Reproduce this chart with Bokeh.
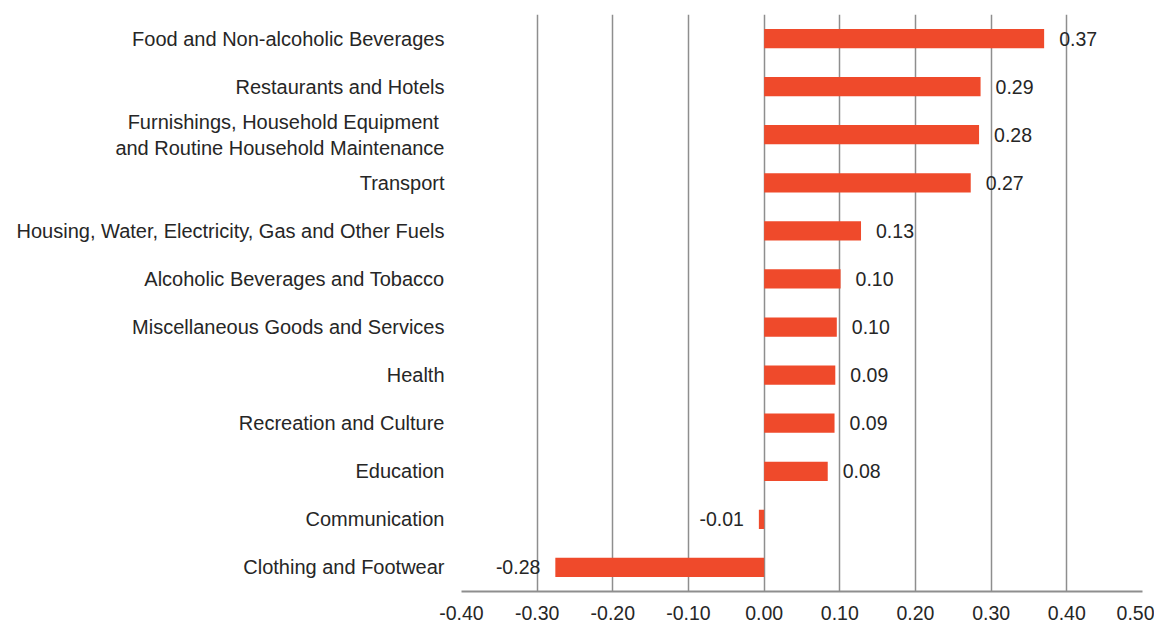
from bokeh.plotting import figure
from bokeh.models import ColumnDataSource, FixedTicker, NumeralTickFormatter, FactorRange, Range1d
from bokeh.embed import file_html
from bokeh.resources import INLINE
from bokeh.core.properties import value

categories = [
    "Food and Non-alcoholic Beverages",
    "Restaurants and Hotels",
    "Furnishings, Household Equipment \nand Routine Household Maintenance",
    "Transport",
    "Housing, Water, Electricity, Gas and Other Fuels",
    "Alcoholic Beverages and Tobacco",
    "Miscellaneous Goods and Services",
    "Health",
    "Recreation and Culture",
    "Education",
    "Communication",
    "Clothing and Footwear",
]
values = [0.370, 0.286, 0.284, 0.273, 0.128, 0.101, 0.096, 0.094, 0.093, 0.084, -0.007, -0.276]
x_ticks = [-0.4, -0.3, -0.2, -0.1, 0.0, 0.1, 0.2, 0.3, 0.4, 0.5]

FONT = "Liberation Sans"
TEXT = "#262626"
BAR = "#EF4A2B"
GRID = "#8E8E8E"

labels = [f"{v:.2f}" for v in values]
pos = [v >= 0 for v in values]
src_pos = ColumnDataSource(dict(
    cat=[c for c, p in zip(categories, pos) if p],
    val=[v for v, p in zip(values, pos) if p],
    lab=[l for l, p in zip(labels, pos) if p],
))
src_neg = ColumnDataSource(dict(
    cat=[c for c, p in zip(categories, pos) if not p],
    val=[v for v, p in zip(values, pos) if not p],
    lab=[l for l, p in zip(labels, pos) if not p],
))

p = figure(
    width=1154, height=622,
    y_range=FactorRange(factors=list(reversed(categories))),
    x_range=Range1d(-0.4, 0.5),
    output_backend="svg", toolbar_location=None,
    min_border_left=461, min_border_right=12, min_border_top=14, min_border_bottom=0,
)
p.hbar(y="cat", right="val", left=0, height=0.4, source=src_pos, color=BAR, line_color=None)
p.hbar(y="cat", right="val", left=0, height=0.4, source=src_neg, color=BAR, line_color=None)

p.text(x="val", y="cat", text="lab", source=src_pos, x_offset=15, text_align="left",
       text_baseline="middle", text_font=value(FONT), text_font_size="19.5px", text_color=TEXT)
p.text(x="val", y="cat", text="lab", source=src_neg, x_offset=-15, text_align="right",
       text_baseline="middle", text_font=value(FONT), text_font_size="19.5px", text_color=TEXT)

p.outline_line_color = None
p.ygrid.grid_line_color = None
p.xgrid.grid_line_color = GRID
p.xgrid.grid_line_width = 1.5

p.xaxis.ticker = FixedTicker(ticks=x_ticks)
p.xaxis.formatter = NumeralTickFormatter(format="0.00")
p.xaxis.axis_line_color = GRID
p.xaxis.axis_line_width = 2
p.xaxis.major_tick_line_color = None
p.xaxis.minor_tick_line_color = None
p.xaxis.major_tick_out = 0
p.xaxis.major_tick_in = 0
p.xaxis.major_label_text_font = FONT
p.xaxis.major_label_text_font_size = "19.5px"
p.xaxis.major_label_text_color = TEXT
p.xaxis.major_label_standoff = 14

p.yaxis.axis_line_color = None
p.yaxis.major_tick_line_color = None
p.yaxis.minor_tick_line_color = None
p.yaxis.major_tick_out = 0
p.yaxis.major_tick_in = 0
p.yaxis.major_label_text_font = FONT
p.yaxis.major_label_text_font_size = "20px"
p.yaxis.major_label_text_color = TEXT
p.yaxis.major_label_standoff = 17

open("out.html", "w").write(file_html(p, INLINE))
